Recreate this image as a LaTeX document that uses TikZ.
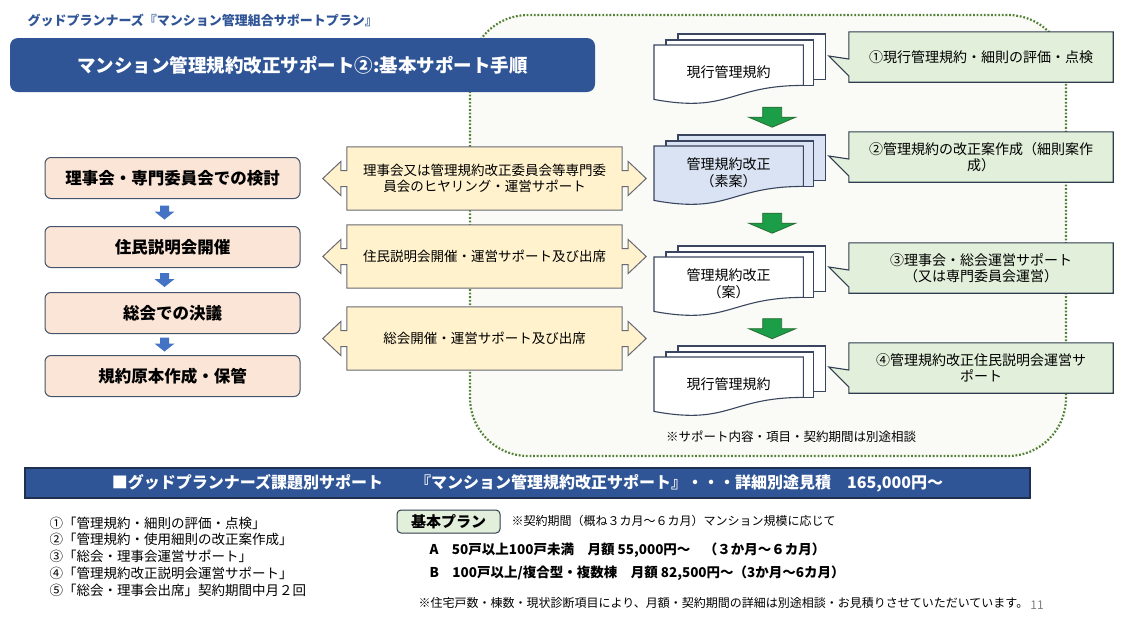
\documentclass[tikz,border=0pt]{standalone}
\usepackage{fontspec}
\setmainfont{Noto Sans CJK JP}
\usepackage{tikz}
\usetikzlibrary{positioning,calc,backgrounds}
\definecolor{planblue}{RGB}{47, 85, 151}
\definecolor{planedge}{RGB}{31, 47, 80}
\definecolor{stepedge}{RGB}{68, 84, 106}
\definecolor{stepfill}{RGB}{251, 229, 214}
\definecolor{stepblue}{RGB}{68, 114, 196}
\definecolor{supportfill}{RGB}{255, 242, 204}
\definecolor{supportedge}{RGB}{105, 105, 115}
\definecolor{docedge}{RGB}{58, 70, 96}
\definecolor{draftfill}{RGB}{218, 227, 243}
\definecolor{flowgreen}{RGB}{28, 158, 72}
\definecolor{flowedge}{RGB}{40, 110, 50}
\definecolor{notefill}{RGB}{226, 239, 218}
\definecolor{noteedge}{RGB}{46, 61, 79}
\definecolor{zoneedge}{RGB}{84, 130, 53}
\definecolor{zonefill}{RGB}{250, 250, 246}

% outline of a left-right arrow callout round a node
\newcommand{\supportarrows}[1]{%
  \draw[supportshape] (#1.north west) -- (#1.north east) -- ($(#1.east)+(0,-8)$) -- ++(6,0) -- ++(0,-9)
    -- ($(#1.east)+(24,0)$) -- ($(#1.east)+(6,17)$) -- ++(0,-9) -- ($(#1.east)+(0,8)$)
    -- (#1.south east) -- (#1.south west) -- ($(#1.west)+(0,8)$) -- ++(-6,0) -- ++(0,9)
    -- ($(#1.west)+(-24,0)$) -- ($(#1.west)+(-6,-17)$) -- ++(0,9) -- ($(#1.west)+(0,-8)$) -- cycle;}
% outline of a callout with its wedge to the left
\newcommand{\notewedge}[1]{%
  \draw[noteshape] (#1.north west) -- (#1.north east) -- (#1.south east) -- (#1.south west)
    -- ($(#1.west)+(0,19)$) -- ($(#1.west)+(-20,-1)$) -- ($(#1.west)+(0,2)$) -- cycle;}
% three stacked pages behind a node
\newcommand{\docstack}[2]{%
  \draw[docpage, fill=#2] ([shift={(24,-11)}]#1.north west) rectangle ([shift={(22,-20)}]#1.south east);
  \draw[docpage, fill=#2] ([shift={(12,-5)}]#1.north west) rectangle ([shift={(10,-14)}]#1.south east);
  \draw[docpage, fill=#2] (#1.north west) -- (#1.north east) -- ([yshift=14pt]#1.south east)
    .. controls ([shift={(-74,-14)}]#1.south east) and ([shift={(-74,14)}]#1.south east) .. (#1.south west) -- cycle;}

\begin{document}
\begin{tikzpicture}[
        x=1pt, y=-1pt,
        bar/.style={fill=planblue, text=white},
        stepbox/.style={draw=stepedge, fill=stepfill, rounded corners=6pt, line width=1pt, minimum width=255pt, minimum height=41pt, font=\fontsize{16.5}{19}\selectfont\bfseries},
        supportbox/.style={minimum width=275pt, minimum height=63pt, align=center, font=\fontsize{13.5}{16}\selectfont},
        supportshape/.style={draw=supportedge, fill=supportfill, line width=1pt},
        doc/.style={anchor=north west, minimum width=149pt, minimum height=54pt, inner sep=0pt, align=center, font=\fontsize{14}{17}\selectfont},
        docpage/.style={draw=docedge, line width=1.1pt},
        note/.style={minimum width=264pt, minimum height=50pt, align=center, font=\fontsize{14}{16}\selectfont},
        noteshape/.style={draw=noteedge, fill=notefill, line width=1.1pt},
        flowarrow/.style={draw=flowedge, fill=flowgreen, line width=0.8pt},
        zone/.style={draw=zoneedge, fill=zonefill, line width=2.2pt, dash pattern=on 1.8pt off 1.8pt, rounded corners=58pt}
    ]
        \useasboundingbox (0,0) rectangle (1133,638);

        % Heading
        \node[anchor=west, text=planblue, font=\fontsize{13}{15}\selectfont\bfseries] (brand) at (24,20) {グッドプランナーズ『マンション管理組合サポートプラン』};
        \node[bar, rounded corners=8pt, minimum width=585pt, minimum height=54pt, font=\fontsize{18.5}{22}\selectfont\bfseries] (title) at (302.5,65) {マンション管理規約改正サポート②:基本サポート手順};

        % Steps of the association
        \node[stepbox] (s1) at (172.5,178) {理事会・専門委員会での検討};
        \node[stepbox] (s2) at (172.5,247) {住民説明会開催};
        \node[stepbox] (s3) at (172.5,313) {総会での決議};
        \node[stepbox] (s4) at (172.5,376) {規約原本作成・保管};
        \foreach \a/\b in {s1/s2, s2/s3, s3/s4}
            \fill[stepblue] ($(\a.south)!0.5!(\b.north)+(-12.5,-7)$) -- ++(9,0) -- ++(0,6) -- ++(5.5,0) -- ++(-10,8) -- ++(-10,-8) -- ++(5.5,0) -- cycle;

        % Support given at each step
        \node[supportbox] (m1) at (484.5,178.5) {理事会又は管理規約改正委員会等専門委\\員会のヒヤリング・運営サポート};
        \node[supportbox] (m2) at (484.5,256.5) {住民説明会開催・運営サポート及び出席};
        \node[supportbox] (m3) at (484.5,338.5) {総会開催・運営サポート及び出席};

        % Documents
        \node[doc] (d1) at (654,45) {現行管理規約};
        \node[doc] (d2) at (654,146) {管理規約改正\\（素案）};
        \node[doc] (d3) at (654,257) {管理規約改正\\（案）};
        \node[doc] (d4) at (654,357) {現行管理規約};

        % Callouts
        \node[note] (c1) at (981,57) {①現行管理規約・細則の評価・点検};
        \node[note] (c2) at (981,157) {②管理規約の改正案作成（細則案作\\成）};
        \node[note] (c3) at (981,268) {③理事会・総会運営サポート\\（又は専門委員会運営）};
        \node[note] (c4) at (981,368) {④管理規約改正住民説明会運営サ\\ポート};
        \node[font=\fontsize{12.5}{15}\selectfont] (remark) at (791,437) {※サポート内容・項目・契約期間は別途相談};

        % Background container and shapes
        \begin{scope}[on background layer]
            \fill[white] (0,0) rectangle (1133,638);
            \draw[zone] (470,15) rectangle (1066,456);
            \foreach \nd in {m1,m2,m3} \supportarrows{\nd};
            \foreach \nd in {c1,c2,c3,c4} \notewedge{\nd};
            \docstack{d1}{white}
            \docstack{d2}{draftfill}
            \docstack{d3}{white}
            \docstack{d4}{white}
        \end{scope}

        % Green flow arrows
        \foreach \a/\b in {d1/d2, d2/d3, d3/d4}
            \draw[flowarrow] ($(\a.south)!0.5!([yshift=11pt]\b.north)+(34,-10)$) -- ++(19,0) -- ++(0,10) -- ++(14,0) -- ++(-23.5,10) -- ++(-23.5,-10) -- ++(14,0) -- cycle;

        % Price banner
        \node[bar, draw=planedge, line width=1.2pt, minimum width=1005pt, minimum height=30pt, font=\fontsize{16}{19}\selectfont\bfseries] (banner) at (527.5,483) {■グッドプランナーズ課題別サポート　　『マンション管理規約改正サポート』・・・詳細別途見積　165,000円～};

        % Service list
        \node[anchor=west, align=left, font=\fontsize{13.5}{16.8}\selectfont] (items) at (46,556.5) {①「管理規約・細則の評価・点検」\\②「管理規約・使用細則の改正案作成」\\③「総会・理事会運営サポート」\\④「管理規約改正説明会運営サポート」\\⑤「総会・理事会出席」契約期間中月２回};

        % Basic plan
        \node[draw=noteedge, fill=notefill, line width=1pt, rounded corners=4pt, minimum width=103pt, minimum height=23pt, inner sep=1pt, font=\fontsize{15}{18}\selectfont\bfseries] (plan) at (448.5,521.5) {基本プラン};
        \node[anchor=west, font=\fontsize{12}{14}\selectfont] (term) at (508,521) {※契約期間（概ね３カ月～６カ月）マンション規模に応じて};
        \node[anchor=west, font=\fontsize{13.5}{16}\selectfont\bfseries] (planA) at (426,550) {A　50戸以上100戸未満　月額 55,000円～　（３か月～６カ月）};
        \node[anchor=west, font=\fontsize{13.5}{16}\selectfont\bfseries] (planB) at (426,573) {B　100戸以上/複合型・複数棟　月額 82,500円～（3か月～6カ月）};
        \node[anchor=west, font=\fontsize{12}{14}\selectfont] (fine) at (415,603) {※住宅戸数・棟数・現状診断項目により、月額・契約期間の詳細は別途相談・お見積りさせていただいています。};
        \node[text=black!50, font=\fontsize{12}{14}\selectfont] (page) at (1037,605) {11};
\end{tikzpicture}
\end{document}
